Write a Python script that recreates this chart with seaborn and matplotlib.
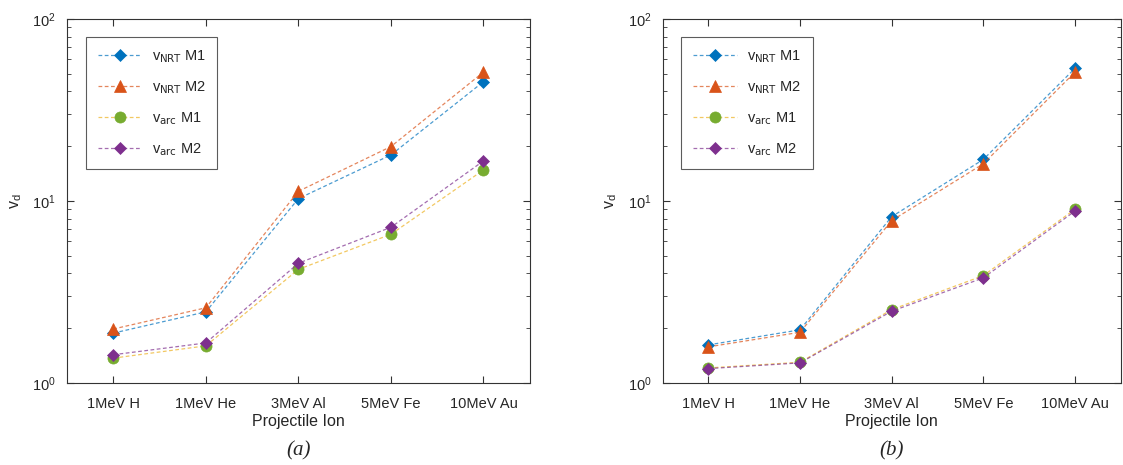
import pandas as pd
import seaborn as sns
from matplotlib import pyplot as plt
from matplotlib.colors import to_rgba
from matplotlib.ticker import LogLocator, NullFormatter

ions = ["1MeV H", "1MeV He", "3MeV Al", "5MeV Fe", "10MeV Au"]
series_labels = [r"v$_{\mathrm{NRT}}$ M1", r"v$_{\mathrm{NRT}}$ M2", r"v$_{\mathrm{arc}}$ M1", r"v$_{\mathrm{arc}}$ M2"]

# panel (a)
a_nrt_m1 = [1.88, 2.46, 10.3, 17.9, 45.2]
a_nrt_m2 = [1.98, 2.59, 11.3, 19.9, 51.0]
a_arc_m1 = [1.37, 1.60, 4.21, 6.56, 14.8]
a_arc_m2 = [1.43, 1.66, 4.55, 7.17, 16.6]

# panel (b)
b_nrt_m1 = [1.62, 1.96, 8.2, 16.9, 53.5]
b_nrt_m2 = [1.58, 1.90, 7.8, 16.0, 51.0]
b_arc_m1 = [1.21, 1.30, 2.53, 3.89, 9.0]
b_arc_m2 = [1.20, 1.29, 2.48, 3.78, 8.8]

line_colors = ["#0072BD", "#D95319", "#EDB120", "#7E2F8E"]
marker_colors = ["#0072BD", "#D95319", "#77AC30", "#7E2F8E"]
markers = ["D", "^", "o", "D"]
msizes = [6, 8, 8, 6]

sns.set_style("ticks")
plt.rcParams["font.family"] = ["Liberation Sans", "DejaVu Sans"]
plt.rcParams["mathtext.default"] = "regular"


def draw(ax, values, tag):
    df = pd.DataFrame({"ion": ions * 4,
                       "v": sum(values, []),
                       "series": [s for s in series_labels for _ in ions]})
    for i, lab in enumerate(series_labels):
        sub = df[df["series"] == lab]
        sns.lineplot(data=sub, x="ion", y="v", ax=ax,
                     color=to_rgba(line_colors[i], 0.7),
                     linestyle=(0, (3, 2)), linewidth=0.9,
                     marker=markers[i], markersize=msizes[i],
                     markerfacecolor=marker_colors[i], markeredgecolor=marker_colors[i],
                     markeredgewidth=0.5, label=lab, sort=False)
    ax.set_yscale("log")
    ax.set_ylim(1, 100)
    ax.set_xlim(-0.5, 4.5)
    ax.yaxis.set_minor_locator(LogLocator(base=10, subs=range(2, 10)))
    ax.yaxis.set_minor_formatter(NullFormatter())
    ax.tick_params(which="both", direction="in", top=True, right=True,
                   labelsize=10.5, color="#333333", labelcolor="#262626")
    ax.tick_params(which="major", length=5)
    ax.tick_params(which="minor", length=3)
    ax.tick_params(axis="x", pad=10)
    ax.tick_params(axis="y", pad=8)
    for sp in ax.spines.values():
        sp.set_color("#333333")
        sp.set_linewidth(0.8)
        sp.set_visible(True)
    ax.set_xlabel("Projectile Ion", fontsize=11.5, color="#262626", labelpad=2)
    ax.set_ylabel(r"v$_d$", fontsize=11.5, color="#262626", labelpad=6)
    leg = ax.legend(loc="upper left", bbox_to_anchor=(0.041, 0.951), borderaxespad=0,
                    fontsize=10.5, frameon=True, fancybox=False, edgecolor="#333333",
                    labelspacing=1.0, handlelength=3.0, borderpad=0.8,
                    handletextpad=0.7)
    leg.get_frame().set_linewidth(0.8)
    ax.text(0.5, -0.185, tag, transform=ax.transAxes, ha="center", va="center",
            fontsize=15, family="Liberation Serif", style="italic")


fig = plt.figure(figsize=(11.23, 4.65), dpi=100)
ax1 = fig.add_axes([0.0597, 0.1763, 0.412, 0.783])
ax2 = fig.add_axes([0.590, 0.1763, 0.408, 0.783])
draw(ax1, [a_nrt_m1, a_nrt_m2, a_arc_m1, a_arc_m2], "(a)")
draw(ax2, [b_nrt_m1, b_nrt_m2, b_arc_m1, b_arc_m2], "(b)")
fig.savefig("out.png", dpi=100)
